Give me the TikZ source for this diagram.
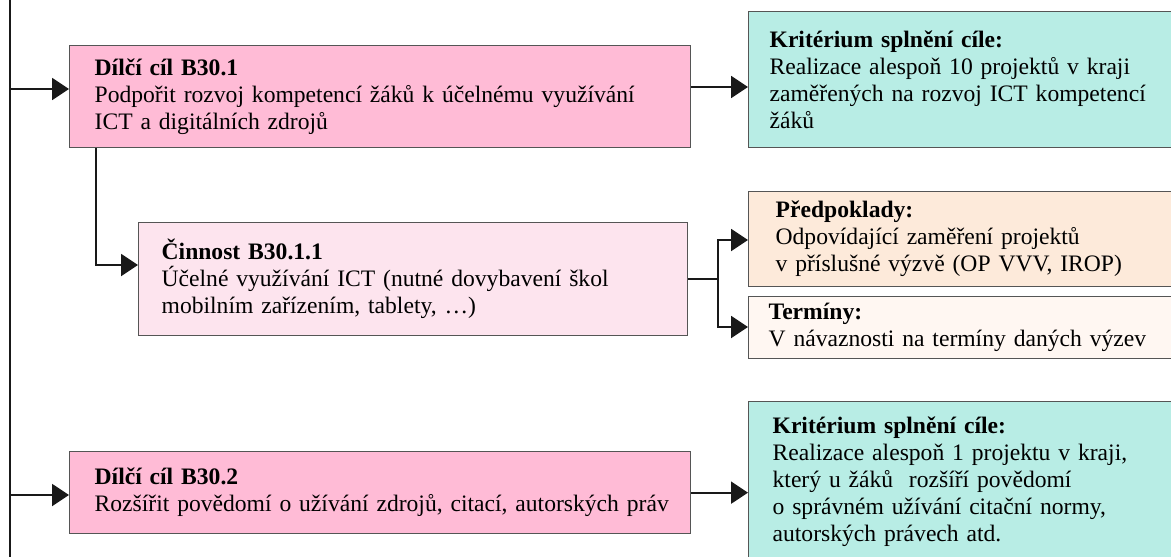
\documentclass[tikz,border=0pt]{standalone}
\usepackage{fontspec}
\setmainfont{Liberation Serif}
\usetikzlibrary{arrows.meta}
\definecolor{pinkA}{RGB}{255,187,214}
\definecolor{pinkB}{RGB}{253,228,238}
\definecolor{tealA}{RGB}{184,237,229}
\definecolor{orangeA}{RGB}{253,234,218}
\definecolor{creamA}{RGB}{255,247,242}
\definecolor{borderA}{RGB}{85,85,85}
\tikzset{
  box/.style={draw=borderA, line width=1.3pt, rectangle, anchor=north west,
    align=left, inner ysep=0pt,
    font=\fontsize{23.6}{27}\selectfont},
  conn/.style={draw=black!90, line width=2pt},
  arr/.style={conn, -{Triangle[length=17pt,width=22pt]}},
}
\begin{document}
\begin{tikzpicture}[x=1pt,y=-1pt]
\useasboundingbox (0,0) rectangle (1171,557);
\clip (0,0) rectangle (1171,557);
\fill[white] (0,0) rectangle (1171,557);

% boxes
\node[box, fill=pinkA, inner xsep=25pt, text width=571pt, minimum height=102pt] (b1) at (69,45)
  {\textbf{Dílčí cíl B30.1}\\Podpořit rozvoj kompetencí žáků k účelnému využívání\\ICT a digitálních zdrojů};
\node[box, fill=tealA, inner xsep=21pt, text width=390pt, minimum height=136pt] (k1) at (748,11)
  {\textbf{Kritérium splnění cíle:}\\Realizace alespoň 10 projektů v kraji\\zaměřených na rozvoj ICT kompetencí\\žáků};
\node[box, fill=pinkB, inner xsep=23pt, text width=503pt, minimum height=113pt] (c1) at (138,222)
  {\textbf{Činnost B30.1.1}\\Účelné využívání ICT (nutné dovybavení škol\\mobilním zařízením, tablety, …)};
\node[box, fill=orangeA, inner xsep=27pt, text width=380pt, minimum height=95pt] (p1) at (748,191)
  {\textbf{Předpoklady:}\\Odpovídající zaměření projektů\\v příslušné výzvě (OP VVV, IROP)};
\node[box, fill=creamA, inner xsep=20pt, text width=394pt, minimum height=62pt] (t1) at (748,296)
  {\textbf{Termíny:}\\V návaznosti na termíny daných výzev};
\node[box, fill=pinkA, inner xsep=25pt, text width=571pt, minimum height=82pt] (b2) at (69,451)
  {\textbf{Dílčí cíl B30.2}\\\mbox{Rozšířit povědomí o užívání zdrojů, citací, autorských práv}};
\node[box, fill=tealA, inner xsep=24pt, text width=386pt, minimum height=161pt] (k2) at (748,401)
  {\textbf{Kritérium splnění cíle:}\\Realizace alespoň 1 projektu v kraji,\\který u žáků\ \ rozšíří povědomí\\o správném užívání citační normy,\\autorských právech atd.};

% connectors
\coordinate (top) at (10,-2);
\coordinate (bot) at (10,560);
\coordinate (s1) at (10,89);
\coordinate (s2) at (10,495);
\coordinate (j) at (718,279);
\draw[conn] (top) -- (bot);
\draw[arr] (s1) -- (b1.west |- s1);
\draw[arr] (s2) -- (b2.west |- s2);
\draw[arr] (b1.east |- 0,87) -- (k1.west |- 0,87);
\draw[arr] (b1.south -| 96,0) |- (c1.west |- 0,265);
\draw[conn] (c1.east |- j) -- (j);
\draw[arr] (j) |- (p1.west |- 0,240);
\draw[arr] (j) |- (t1.west |- 0,327);
\draw[arr] (b2.east) -- (k2.west |- b2.east);
\end{tikzpicture}
\end{document}
